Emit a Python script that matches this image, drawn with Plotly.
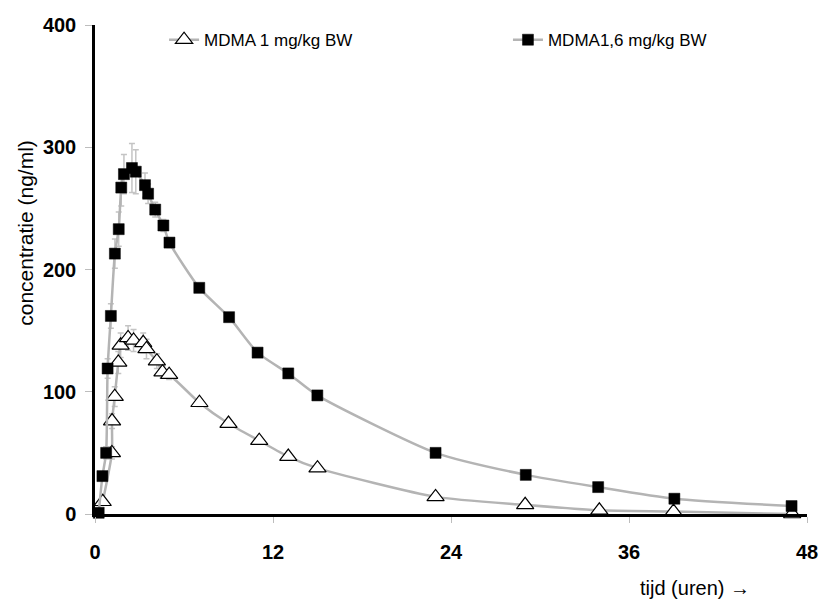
import plotly.graph_objects as go

# MDMA 1.6 mg/kg BW: sampling times (h) and plasma concentration (ng/ml)
t_high = [0.25, 0.5, 0.75, 0.85, 1.07, 1.34, 1.6, 1.77, 1.95, 2.49, 2.75, 3.37, 3.58,
          4.06, 4.61, 5.02, 7.03, 9.04, 10.96, 13.03, 14.99, 22.96, 29.04, 33.92, 39.06, 46.96]
c_high = [1, 31, 50, 119, 162, 213, 233, 267, 278, 283, 280, 269, 262,
          249, 236, 222, 185, 161, 132, 115, 97, 50, 32, 22, 12.5, 6.5]
sd_high = [0, 3, 5, 8, 10, 12, 14, 15, 16, 20, 18, 10, 8,
           6, 5, 4, 3, 3, 2, 2, 2, 1, 1, 1, 1, 1]

# MDMA 1 mg/kg BW
t_low = [0.52, 1.14, 1.15, 1.33, 1.57, 1.73, 2.23, 2.6, 3.25, 3.47, 4.17, 4.55, 5.0,
         7.04, 9.0, 11.07, 13.03, 15.0, 22.96, 29.0, 34.0, 39.0, 47.0]
c_low = [10, 50, 76, 96, 124, 138, 144, 142, 140, 135, 125, 116, 114,
         91, 74, 60, 47, 37.5, 14, 7.5, 3, 2, 0]
sd_low = [2, 5, 6, 8, 9, 10, 10, 9, 8, 8, 6, 5, 4,
          3, 2, 2, 2, 1, 1, 1, 0, 0, 0]

x_ticks = [0, 12, 24, 36, 48]
y_ticks = [0, 100, 200, 300, 400]

LINE_GREY = "#b4b4b4"
ERR_GREY = "#c4c4c4"
FONT = "Liberation Sans, Arial, sans-serif"

fig = go.Figure()

fig.add_trace(go.Scatter(
    x=t_low, y=c_low, name="MDMA 1 mg/kg BW", mode="lines+markers",
    line=dict(color=LINE_GREY, width=2.5, shape="spline", smoothing=0.6),
    marker=dict(symbol="triangle-up", size=15, color="white",
                line=dict(color="black", width=1.2)),
    error_y=dict(type="data", array=sd_low, color=ERR_GREY, thickness=1.5, width=3),
    cliponaxis=False, legend="legend",
))

fig.add_trace(go.Scatter(
    x=t_high, y=c_high, name="MDMA1,6 mg/kg BW", mode="lines+markers",
    line=dict(color=LINE_GREY, width=2.5, shape="spline", smoothing=0.6),
    marker=dict(symbol="square", size=11, color="black",
                line=dict(color="black", width=0.5)),
    error_y=dict(type="data", array=sd_high, color=ERR_GREY, thickness=1.5, width=3),
    cliponaxis=False, legend="legend2",
))

legend_style = dict(
    orientation="h", yanchor="middle", xanchor="left",
    bgcolor="rgba(0,0,0,0)", borderwidth=0,
    font=dict(family=FONT, size=17, color="black"),
)

fig.update_layout(
    width=830, height=602,
    margin=dict(l=95, r=14, t=25, b=88),
    plot_bgcolor="white", paper_bgcolor="white",
    showlegend=True,
    legend=dict(x=0.097, y=0.969, **legend_style),
    legend2=dict(x=0.58, y=0.969, **legend_style),
    xaxis=dict(
        range=[0, 48], tickvals=x_ticks, ticktext=[str(v) for v in x_ticks],
        showgrid=False, zeroline=False,
        showline=True, linecolor="black", linewidth=2.5,
        ticks="outside", ticklen=6, tickcolor="#bdbdbd", tickwidth=1,
        ticklabelstandoff=12,
        tickfont=dict(family=FONT, size=20, color="black", weight="bold"),
    ),
    yaxis=dict(
        range=[0, 400], tickvals=y_ticks, ticktext=[str(v) for v in y_ticks],
        showgrid=False, zeroline=False,
        showline=True, linecolor="black", linewidth=2.5,
        ticks="outside", ticklen=7, tickcolor="#bdbdbd", tickwidth=1,
        ticklabelstandoff=5,
        tickfont=dict(family=FONT, size=20, color="black", weight="bold"),
    ),
    annotations=[
        dict(text="concentratie (ng/ml)", xref="paper", yref="paper",
             x=-0.097, y=0.575, xanchor="center", yanchor="middle",
             textangle=-90, showarrow=False,
             font=dict(family=FONT, size=21, color="black")),
        dict(text="tijd (uren) \u2192", xref="paper", yref="paper",
             x=0.842, y=-0.152, xanchor="center", yanchor="middle",
             showarrow=False,
             font=dict(family=FONT, size=20, color="black")),
    ],
)

fig.write_html("out.html")
